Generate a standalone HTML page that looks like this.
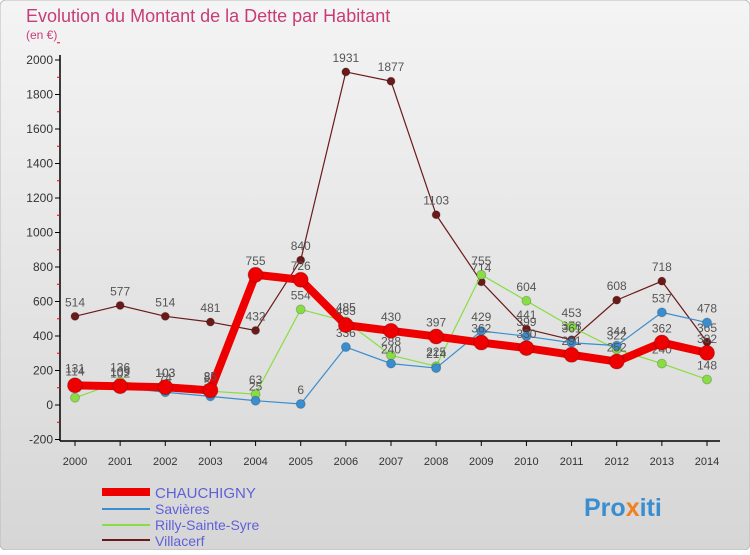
<!DOCTYPE html>
<html><head><meta charset="utf-8"><style>
body{margin:0;width:750px;height:550px;overflow:hidden;font-family:"Liberation Sans",sans-serif}
svg text{font-family:"Liberation Sans","DejaVu Sans",sans-serif}
</style></head><body>
<svg id="c" width="750" height="550">
<defs><linearGradient id="bg" x1="0" y1="0" x2="0" y2="1"><stop offset="0" stop-color="#f4f4f4"/><stop offset="1" stop-color="#d6d6d6"/></linearGradient></defs>
<rect width="750" height="550" fill="url(#bg)" rx="6" stroke="#bbb"/>
<text x="26" y="22" font-size="18" fill="#c83c78">Evolution du Montant de la Dette par Habitant</text>
<text x="26" y="39" font-size="12" fill="#c83c78">(en €)</text>
<g id="axes"></g><g id="series"></g>
<g>
<line x1="102" y1="492" x2="150" y2="492" stroke="#ee0000" stroke-width="8"/>
<text x="155" y="498" font-size="15" fill="#6060d8">CHAUCHIGNY</text>
<line x1="102" y1="509" x2="150" y2="509" stroke="#3a8ed0" stroke-width="2"/>
<text x="155" y="514" font-size="14" fill="#6060d8">Savières</text>
<line x1="102" y1="525" x2="150" y2="525" stroke="#88dd44" stroke-width="2"/>
<text x="155" y="530" font-size="14" fill="#6060d8">Rilly-Sainte-Syre</text>
<line x1="102" y1="540" x2="150" y2="540" stroke="#6b1a1a" stroke-width="2"/>
<text x="155" y="546" font-size="14" fill="#6060d8">Villacerf</text>
</g>
<text x="584" y="516" font-size="25" font-weight="bold" fill="#3a8ed0">Pro<tspan fill="#f08020">x</tspan>iti</text>
</svg>
<script>
const years=[2000,2001,2002,2003,2004,2005,2006,2007,2008,2009,2010,2011,2012,2013,2014];
const yTicks=[-200,0,200,400,600,800,1000,1200,1400,1600,1800,2000];
const chauchigny=[114,109,103,85,755,726,463,430,397,362,330,291,252,362,302];
const savieres=[131,102,74,50,25,6,336,240,214,429,399,361,344,537,478];
const rilly=[42,136,103,80,63,554,485,288,225,755,604,453,322,240,148];
const villacerf=[514,577,514,481,432,840,1931,1877,1103,714,441,378,608,718,365];
const NS='http://www.w3.org/2000/svg';
const X=i=>75+i*(632/14);
const Y=v=>405-v*(345/2000);
function el(t,a,p){const e=document.createElementNS(NS,t);for(const k in a)e.setAttribute(k,a[k]);p.appendChild(e);return e;}
const ax=document.getElementById('axes');
const yl=el('line',{x1:60,y1:55,x2:60,y2:441,stroke:'#000','stroke-width':1.5},ax);


const xl=el('line',{x1:60,y1:441,x2:720,y2:441,stroke:'#000','stroke-width':1.5},ax);


yTicks.forEach(v=>{
 el('line',{x1:55,y1:Y(v),x2:60,y2:Y(v),stroke:'#000'},ax);
 el('line',{x1:57,y1:Y(v+100),x2:60,y2:Y(v+100),stroke:'#e00'},ax);
 const t=el('text',{x:53,y:Y(v)+4,'font-size':12,'text-anchor':'end',fill:'#333'},ax);t.textContent=v;
 
 
});
years.forEach((y,i)=>{
 el('line',{x1:X(i),y1:441,x2:X(i),y2:446,stroke:'#000'},ax);
 const t=el('text',{x:X(i),y:465,'font-size':11,'text-anchor':'middle',fill:'#333'},ax);t.textContent=y;
 
 
});
const sg=document.getElementById('series');
function draw(data,color,w,r,name){
 const g=el('g',{},sg);
 
 
 el('polyline',{points:data.map((v,i)=>X(i)+','+Y(v)).join(' '),fill:'none',stroke:color,'stroke-width':w,'stroke-linejoin':'round'},g);
 data.forEach((v,i)=>{
  const c=el('circle',{cx:X(i),cy:Y(v),r:r,fill:color,stroke:'rgba(0,0,0,0.2)'},g);
  
  
  const t=el('text',{x:X(i),y:Y(v)-10,'font-size':12,'text-anchor':'middle',fill:'#555'},g);t.textContent=v;
 });
}
draw(villacerf,'#6b1a1a',1.2,4,'villacerf');
draw(rilly,'#88dd44',1.2,4.5,'rilly');
draw(savieres,'#3a8ed0',1.2,4.5,'savieres');
draw(chauchigny,'#ee0000',8,7.5,'chauchigny');
</script>
</body></html>
